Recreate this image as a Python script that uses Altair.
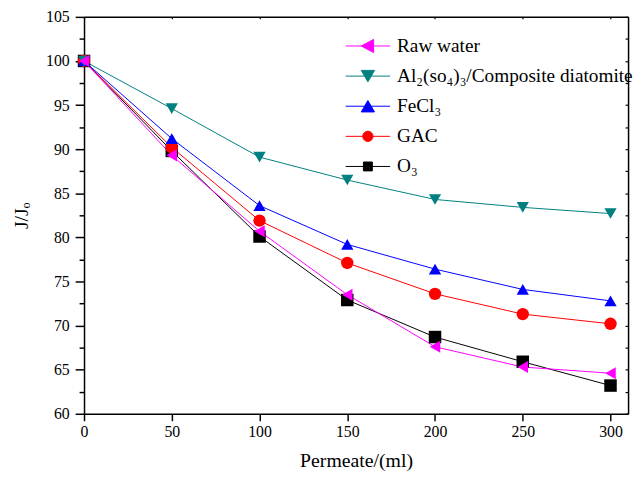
import altair as alt
import pandas as pd

x_vals = [0, 50, 100, 150, 200, 250, 300]
series_names = ["Raw water", "Al₂(so₄)₃/Composite diatomite", "FeCl₃", "GAC", "O₃"]
raw_water = [100, 89.3, 80.7, 73.5, 67.6, 65.3, 64.6]
al2so4 = [100, 94.6, 89.1, 86.5, 84.3, 83.4, 82.7]
fecl3 = [100, 91.2, 83.6, 79.2, 76.4, 74.1, 72.8]
gac = [100, 90.2, 81.9, 77.1, 73.6, 71.3, 70.2]
o3 = [100, 89.8, 80.1, 72.9, 68.7, 65.9, 63.2]
colors = ["#FF00FF", "#008080", "#0000FF", "#FF0000", "#000000"]
shapes = ["triangle-left", "triangle-down", "triangle-up", "circle", "square"]
sizes = [150, 160, 160, 100, 90]
legend_paths = [
    "M-2.25,0H2.25M-0.67,0L0.58,-0.67L0.58,0.67Z",
    "M-2.25,0H2.25M-0.67,-0.58L0.67,-0.58L0,0.58Z",
    "M-2.25,0H2.25M-0.67,0.58L0.67,0.58L0,-0.58Z",
    "M-2.25,0H2.25M0.52,0A0.52,0.52,0,1,1,-0.52,0A0.52,0.52,0,1,1,0.52,0Z",
    "M-2.25,0H2.25M-0.45,-0.45H0.45V0.45H-0.45Z",
]

all_series = [raw_water, al2so4, fecl3, gac, o3]
rows = []
# draw order: O3 first, Raw water last (on top)
for name, vals in reversed(list(zip(series_names, all_series))):
    for xv, yv in zip(x_vals, vals):
        rows.append({"x": xv, "y": yv, "series": name})
df = pd.DataFrame(rows)

FONT = "Liberation Serif"
xscale = alt.Scale(domain=[0, 310], nice=False, zero=False)
yscale = alt.Scale(domain=[60, 105], nice=False, zero=False)
col_scale = alt.Scale(domain=series_names, range=colors)

y_ticks = [60 + 2.5 * i for i in range(19)]

x_axis = alt.Axis(
    title="Permeate/(ml)", values=x_vals, format="d", tickSize=7, tickWidth=1.5,
    domainWidth=1.5, labelFontSize=16, labelPadding=3, titleFontSize=20,
    titlePadding=11, labelFlush=False,
)
y_axis = alt.Axis(
    title="J/Jₒ", values=y_ticks,
    labelExpr="datum.value % 5 === 0 ? datum.label : ''",
    tickSize={"condition": {"test": "datum.value % 5 === 0", "value": 9}, "value": 5},
    tickWidth=1.5, domainWidth=1.5, labelFontSize=16, labelPadding=6,
    titleFontSize=20, titlePadding=14, format="d", labelFlush=False,
)
top_axis = alt.Axis(
    orient="top", title=None, labels=False, values=x_vals,
    tickSize={"expr": "-2"}, tickWidth=1.2, domainWidth=1.5,
)
right_axis = alt.Axis(
    orient="right", title=None, labels=False, values=y_ticks,
    tickSize={"expr": "-3"}, tickWidth=1.2, domainWidth=1.5,
)

lines = alt.Chart(df).mark_line(strokeWidth=1).encode(
    x=alt.X("x:Q", scale=xscale, axis=x_axis),
    y=alt.Y("y:Q", scale=yscale, axis=y_axis),
    color=alt.Color("series:N", scale=col_scale, legend=None),
)

points = alt.Chart(df).mark_point(filled=True, opacity=1).encode(
    x=alt.X("x:Q", scale=xscale, axis=None),
    y=alt.Y("y:Q", scale=yscale, axis=None),
    color=alt.Color("series:N", scale=col_scale, legend=None),
    shape=alt.Shape("series:N", scale=alt.Scale(domain=series_names, range=shapes), legend=None),
    size=alt.Size("series:N", scale=alt.Scale(domain=series_names, range=sizes), legend=None),
)

leg = alt.Legend(
    title=None, orient="none", legendX=277, legendY=19, symbolSize=400,
    symbolStrokeWidth=1, labelFont=FONT, labelFontSize=19.5, labelOffset=19,
    rowPadding=10.5, padding=0, labelLimit=400,
)

legend_layer = alt.Chart(df).transform_filter("datum.x < 0").mark_point(
    filled=True, opacity=1, strokeWidth=1
).encode(
    x=alt.X("x:Q", scale=xscale, axis=top_axis),
    y=alt.Y("y:Q", scale=yscale, axis=right_axis),
    fill=alt.Fill("series:N", scale=col_scale, legend=leg),
    stroke=alt.Stroke("series:N", scale=col_scale, legend=leg),
    shape=alt.Shape("series:N", scale=alt.Scale(domain=series_names, range=legend_paths), legend=leg),
)

chart = alt.layer(lines, points, legend_layer).resolve_scale(
    shape="independent", fill="independent", stroke="independent",
    color="independent", size="independent",
).resolve_legend(
    shape="independent", fill="independent", stroke="independent",
    color="independent", size="independent",
).resolve_axis(
    x="independent", y="independent"
).properties(
    width=551, height=402, background="white",
    autosize=alt.AutoSizeParams(type="none"),
    padding={"left": 77, "top": 6, "right": 5, "bottom": 58},
).configure_axis(
    labelFont=FONT, titleFont=FONT, titleFontWeight="normal",
    domainColor="black", tickColor="black", labelColor="black", titleColor="black",
    grid=False,
).configure_view(stroke=None)

chart.save("out.html", embed_options={"renderer": "svg", "actions": False})
